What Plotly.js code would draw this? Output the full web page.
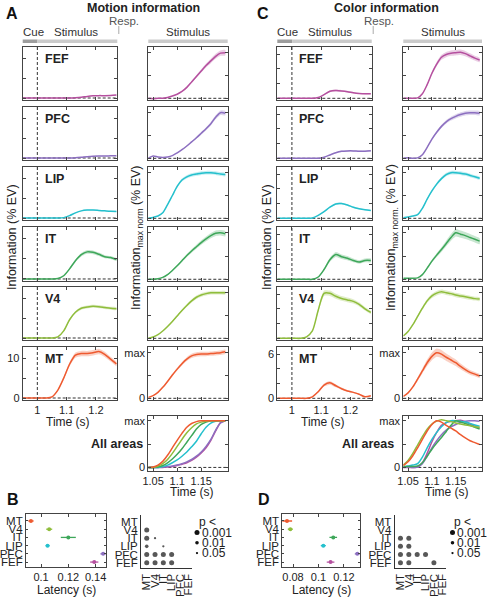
<!DOCTYPE html>
<html><head><meta charset="utf-8">
<script src="https://cdn.plot.ly/plotly-3.0.1.min.js"></script>
<style>html,body{margin:0;padding:0;background:#fff}#chart{width:488px;height:600px}</style>
</head><body><div id="chart"></div>
<script>
// ---------------- DATA ----------------
const rowAreas = ['FEF','PFC','LIP','IT','V4','MT'];
const latencyAreas = ['MT','V4','IT','LIP','PFC','FEF'];

const tLeft  = [0.95,0.97,0.99,1.01,1.03,1.05,1.07,1.09,1.11,1.13,1.15,1.17,1.19,1.21,1.23,1.25,1.27];
const tRight = [1.04,1.05,1.06,1.07,1.08,1.09,1.10,1.11,1.12,1.13,1.14,1.15,1.16,1.17,1.18,1.19,1.20];

// Motion information, % EV
const motionAbsFEF = [0,0,0,0,0,0,0,0,0.02,0.08,0.2,0.4,0.55,0.6,0.6,0.65,0.75];
const motionAbsPFC = [0,0,0,0,0,0,0,0,0.02,0.08,0.2,0.35,0.45,0.5,0.5,0.55,0.6];
const motionAbsLIP = [0,0,0,0,0,0,0,0.1,0.6,1.3,1.8,2.0,2.0,1.9,1.8,1.7,1.65];
const motionAbsIT  = [0,0,0,0,0,0,0.1,0.8,2.5,4.5,6.0,6.7,6.6,6.1,5.5,5.3,4.8];
const motionAbsV4  = [0,0,0,0,0,0,0.3,1.8,4.6,6.5,7.5,7.8,8.0,7.9,7.7,7.5,7.4];
const motionAbsMT  = [0,0,0,0,0,0.3,2.0,5.0,8.5,10.8,11.2,11.2,11.4,11.7,11.0,9.8,8.6];
// Motion information, max-normalised
const motionNormFEF = [0,-0.01,0,0,0.02,0.05,0.09,0.15,0.24,0.36,0.48,0.6,0.72,0.82,0.92,0.99,1.0];
const motionNormPFC = [0,0.05,0.03,0.02,0.03,0.06,0.12,0.19,0.27,0.36,0.45,0.55,0.65,0.76,0.9,1.0,0.99];
const motionNormLIP = [0,0.02,0.05,0.12,0.3,0.5,0.7,0.84,0.91,0.95,0.97,0.99,1.0,1.0,0.99,0.97,0.96];
const motionNormIT  = [0,0,0.01,0.04,0.1,0.19,0.29,0.4,0.51,0.61,0.7,0.79,0.87,0.94,0.99,1.0,0.98];
const motionNormV4  = [0,0.03,0.08,0.16,0.26,0.37,0.49,0.61,0.72,0.82,0.9,0.95,0.98,1.0,1.0,1.0,1.0];
const motionNormMT  = [0.02,0.06,0.13,0.24,0.37,0.51,0.64,0.76,0.86,0.93,0.96,0.97,0.97,0.98,0.99,1.0,1.02];
// Motion, all areas overlay
const motionAllFEF = [0,0,0,0,0.01,0.02,0.04,0.07,0.1,0.15,0.22,0.31,0.42,0.58,0.78,0.96,1.0];
const motionAllPFC = [0,0,0,0.01,0.02,0.03,0.05,0.08,0.12,0.17,0.24,0.33,0.45,0.6,0.8,0.95,1.0];
const motionAllLIP = [0,0,0,0.02,0.05,0.1,0.16,0.24,0.33,0.44,0.56,0.72,0.86,0.95,0.99,1.0,1.0];
const motionAllIT  = [0,0,0.01,0.04,0.1,0.18,0.28,0.4,0.54,0.68,0.82,0.92,0.97,1.0,1.0,1.0,1.0];
const motionAllV4  = [0,0,0.03,0.08,0.17,0.3,0.45,0.6,0.74,0.85,0.93,0.97,0.99,1.0,1.0,1.0,1.0];
const motionAllMT  = [0,0.01,0.05,0.13,0.26,0.42,0.58,0.73,0.86,0.94,0.98,1.0,1.0,1.0,1.0,1.0,1.0];

// Color information, % EV
const colorAbsFEF = [0,0,0,0,0,0,0,0.1,0.5,0.95,1.05,1.0,0.9,0.75,0.65,0.6,0.62];
const colorAbsPFC = [0,0,0,0,0,0,0,0,0.15,0.45,0.75,0.95,1.0,1.0,0.95,0.95,1.02];
const colorAbsLIP = [0,0,0,0,0,0,0.05,0.4,0.9,1.5,1.95,2.0,1.8,1.5,1.3,1.15,1.05];
const colorAbsIT  = [0,0,0,0,0,0,0,0.3,1.3,2.6,3.3,3.0,2.8,2.5,2.3,2.5,2.5];
const colorAbsV4  = [0,0,0,0,0,0.2,1.0,3.8,6.1,6.1,5.7,5.4,5.2,5.0,4.6,4.0,3.5];
const colorAbsMT  = [0,0,0,0,0,0,0.2,0.9,1.8,2.1,1.7,1.3,1.0,0.8,0.55,0.2,0.35];
// Color information, max-normalised (also overlaid in "All areas")
const colorNormFEF = [0,0,0,0.01,0.1,0.3,0.55,0.75,0.9,0.96,0.99,1.0,1.01,0.98,0.93,0.88,0.84];
const colorNormPFC = [0,0.01,0,0.01,0.08,0.24,0.42,0.57,0.7,0.8,0.87,0.92,0.96,0.99,1.0,1.0,0.99];
const colorNormLIP = [0.01,0.03,0.05,0.08,0.22,0.42,0.6,0.75,0.87,0.96,1.0,1.0,0.99,0.97,0.94,0.91,0.88];
const colorNormIT  = [0.02,0.02,0.02,0.03,0.1,0.24,0.39,0.52,0.64,0.77,0.9,1.0,0.97,0.94,0.9,0.86,0.82];
const colorNormV4  = [0.05,0.15,0.3,0.48,0.66,0.82,0.93,0.99,1.02,1.0,0.98,0.95,0.93,0.91,0.89,0.87,0.86];
const colorNormMT  = [0.04,0.12,0.25,0.42,0.6,0.78,0.92,1.0,0.97,0.9,0.84,0.78,0.7,0.63,0.57,0.53,0.49];

// relative error-band half widths (order: FEF, PFC, LIP, IT, V4, MT)
const motionAbsBand  = [0.1,0.1,0.06,0.07,0.05,0.06];
const motionNormBand = [0.06,0.05,0.04,0.06,0.04,0.05];
const colorAbsBand   = [0.12,0.1,0.06,0.1,0.06,0.12];
const colorNormBand  = [0.06,0.05,0.04,0.08,0.05,0.09];

// Latencies (s), order MT, V4, IT, LIP, PFC, FEF
const motionLatency    = [0.0926,0.1060,0.1200,0.1048,0.1455,0.1390];
const motionLatencyErr = [0.002,0.0022,0.0055,0.0015,0.002,0.003];
const colorLatency     = [0.0753,0.0779,0.1116,0.1038,0.1305,0.1095];
const colorLatencyErr  = [0.004,0.002,0.003,0.002,0.002,0.003];

// Pairwise significance
const motionSigRow = ['V4','IT','IT','LIP','LIP','PFC','PFC','PFC','PFC','FEF','FEF','FEF','FEF'];
const motionSigCol = ['MT','MT','V4','MT','IT','MT','V4','IT','LIP','MT','V4','IT','LIP'];
const motionSigP   = [0.001,0.001,0.05,0.01,0.05,0.001,0.001,0.001,0.001,0.001,0.001,0.001,0.001];
const colorSigRow = ['IT','IT','LIP','LIP','PFC','PFC','PFC','PFC','FEF','FEF','FEF'];
const colorSigCol = ['MT','V4','MT','V4','MT','V4','IT','LIP','MT','V4','PFC'];
const colorSigP   = [0.001,0.001,0.001,0.001,0.001,0.001,0.001,0.001,0.001,0.001,0.001];
const pLevels = ['0.001','0.01','0.05'];

// ---------------- TABLES ----------------
const motionAbs  = {FEF:motionAbsFEF,PFC:motionAbsPFC,LIP:motionAbsLIP,IT:motionAbsIT,V4:motionAbsV4,MT:motionAbsMT};
const motionNorm = {FEF:motionNormFEF,PFC:motionNormPFC,LIP:motionNormLIP,IT:motionNormIT,V4:motionNormV4,MT:motionNormMT};
const motionAll  = {FEF:motionAllFEF,PFC:motionAllPFC,LIP:motionAllLIP,IT:motionAllIT,V4:motionAllV4,MT:motionAllMT};
const colorAbs   = {FEF:colorAbsFEF,PFC:colorAbsPFC,LIP:colorAbsLIP,IT:colorAbsIT,V4:colorAbsV4,MT:colorAbsMT};
const colorNorm  = {FEF:colorNormFEF,PFC:colorNormPFC,LIP:colorNormLIP,IT:colorNormIT,V4:colorNormV4,MT:colorNormMT};

// ---------------- STYLE ----------------
const COL = {MT:'#ee5a30',V4:'#8fbd3c',IT:'#3ea75a',LIP:'#25c0cd',PFC:'#8c6fc0',FEF:'#b5509f'};
function rgba(hex,a){const n=parseInt(hex.slice(1),16);return `rgba(${n>>16},${(n>>8)&255},${n&255},${a})`;}
const F = '"Liberation Sans Narrow","Arial Narrow","Liberation Sans",Arial,sans-serif';
const W=488,H=600;
function X(p){return p/W;} function Y(p){return 1-p/H;}

const layout = {width:W,height:H,margin:{l:0,r:0,t:0,b:0},paper_bgcolor:'#fff',plot_bgcolor:'rgba(0,0,0,0)',
  showlegend:false,shapes:[],annotations:[],font:{family:F,size:11,color:'#222'}};
const traces=[];
const baseAx = {showline:true,mirror:'ticks',linecolor:'#444',linewidth:1,ticks:'inside',ticklen:3,tickwidth:1,
  tickcolor:'#444',showgrid:false,zeroline:false,fixedrange:true,tickfont:{family:F,size:11,color:'#222'}};
let axN=0;
function addAxes(x0,x1,y0,y1,xo,yo){
  axN++; const s = axN===1?'':String(axN);
  layout['xaxis'+s] = Object.assign({}, baseAx, {domain:[X(x0),X(x1)],anchor:'y'+s}, xo);
  layout['yaxis'+s] = Object.assign({}, baseAx, {domain:[Y(y1),Y(y0)],anchor:'x'+s}, yo);
  return {x:'x'+s,y:'y'+s};
}
function txt(s,x,y,o){layout.annotations.push(Object.assign({text:s,x:X(x),y:Y(y),xref:'paper',yref:'paper',showarrow:false,
  xanchor:'center',yanchor:'middle',font:{family:F,size:11,color:'#222'}},o||{}));}
function rect(x0,x1,y0,y1,c){layout.shapes.push({type:'rect',xref:'paper',yref:'paper',x0:X(x0),x1:X(x1),y0:Y(y1),y1:Y(y0),fillcolor:c,line:{width:0}});}
function hDash(ax){layout.shapes.push({type:'line',layer:'below',xref:ax.x+' domain',x0:0,x1:1,yref:ax.y,y0:0,y1:0,line:{color:'#333',width:1,dash:'3px,2px'}});}
function vDash(ax,xv){layout.shapes.push({type:'line',layer:'below',yref:ax.y+' domain',y0:0,y1:1,xref:ax.x,x0:xv,x1:xv,line:{color:'#333',width:1,dash:'3px,2px'}});}

function curve(ax,t,v,color,frac){
  if(frac){
    const up=v.map(a=>a+frac*Math.abs(a)), lo=v.map(a=>a-frac*Math.abs(a));
    traces.push({type:'scatter',mode:'lines',x:t.concat(t.slice().reverse()),y:up.concat(lo.slice().reverse()),
      xaxis:ax.x,yaxis:ax.y,fill:'toself',fillcolor:rgba(color,0.28),line:{width:0,shape:'spline',smoothing:0.6},hoverinfo:'skip'});
  }
  traces.push({type:'scatter',mode:'lines',x:t,y:v,xaxis:ax.x,yaxis:ax.y,line:{color:color,width:1.5,shape:'spline',smoothing:0.8}});
}

const rowTop=[47,107,167,227,287,347], rowBot=[100,160,220,281,340,400];

function bigPanel(o){
  const L=o.L, R=o.R;
  // header
  txt(o.letter, o.letterX, 13, {font:{family:'"Liberation Sans",Arial,sans-serif',size:16,color:'#111',weight:'bold'}});
  txt(o.title, o.titleX, 8, {font:{family:F,size:12.5,color:'#222',weight:'bold'}});
  rect(L[0],L[0]+14.8,39.5,43,'#9d9d9d'); rect(L[0]+14.8,L[1],39.5,43,'#cbcbcb');
  rect(R[0],R[1],39.5,43,'#cbcbcb');
  txt('Cue',L[0]+10.5,32,{font:{family:F,size:11.5,color:'#333'}});
  txt('Stimulus',L[0]+53,32,{font:{family:F,size:11.5,color:'#333'}});
  txt('Resp.',L[1]+7,21,{font:{family:F,size:11.5,color:'#555'}});
  layout.shapes.push({type:'line',xref:'paper',yref:'paper',x0:X(L[1]+1.5),x1:X(L[1]+1.5),y0:Y(26),y1:Y(34),line:{color:'#aaa',width:1}});
  txt('Stimulus',(R[0]+R[1])/2,32,{font:{family:F,size:11.5,color:'#333'}});
  rowAreas.forEach((a,i)=>{
    const last = i===rowAreas.length-1;
    const axL = addAxes(L[0],L[1],rowTop[i],rowBot[i],
      {range:[0.95,1.273],tickvals:[1,1.1,1.2],ticktext:last?['1','1.1','1.2']:['','','']},
      {range:o.absRange,tickvals:o.absTicks,ticktext:last?o.absTickText:o.absTicks.map(()=> '')});
    hDash(axL); vDash(axL,1);
    curve(axL,tLeft,o.abs[a],COL[a],o.absBand[i]);
    txt(a,L[0]+20,rowTop[i]+12,{xanchor:'left',font:{family:F,size:12.5,color:'#222',weight:'bold'}});
    const axR = addAxes(R[0],R[1],rowTop[i],rowBot[i],
      {range:[1.04,1.205],tickvals:[1.05,1.1,1.15],ticktext:['','','']},
      {range:[-0.037,1.125],tickvals:[0,0.5,1],ticktext:last?['0','','max']:['','','']});
    hDash(axR);
    curve(axR,tRight,o.norm[a],COL[a],o.normBand[i]);
  });
  txt('Time (s)',(L[0]+L[1])/2-2,422,{font:{family:F,size:12,color:'#222'}});
  txt('Information (% EV)',o.yTitleL,237,{textangle:-90,font:{family:F,size:12.5,color:'#222'}});
  txt('Information<sub>'+o.sub+'</sub> (% EV)',o.yTitleR,238,{textangle:-90,font:{family:F,size:12.5,color:'#222'}});
  // all areas
  const axA = addAxes(R[0],R[1],415.7,470.7,
    {range:[1.04,1.205],tickvals:[1.05,1.1,1.15],ticktext:['1.05','1.1','1.15']},
    {range:[-0.07,1.107],tickvals:[0,0.5,1],ticktext:['0','','max']});
  hDash(axA);
  rowAreas.forEach(a=>curve(axA,tRight,o.all[a],COL[a],0));
  txt('All areas',o.allX,444,{font:{family:F,size:12.5,color:'#222',weight:'bold'}});
  txt('Time (s)',(R[0]+R[1])/2+4,492,{font:{family:F,size:12,color:'#222'}});
}

function latencyPanel(x0,x1,lat,err,range,tv,letterX,letter){
  txt(letter,letterX,499,{font:{family:'"Liberation Sans",Arial,sans-serif',size:16,color:'#111',weight:'bold'}});
  const ax = addAxes(x0,x1,514,567,{range:range,tickvals:tv,ticktext:tv.map(String)},
    {range:[5.6,-0.85],tickvals:[0,1,2,3,4,5],ticktext:latencyAreas,ticklen:2,tickfont:{family:F,size:11.5,color:'#222'}});
  latencyAreas.forEach((a,i)=>traces.push({type:'scatter',mode:'markers',x:[lat[i]],y:[i],xaxis:ax.x,yaxis:ax.y,
    marker:{size:4,color:COL[a]},error_x:{type:'data',array:[err[i]],color:COL[a],thickness:1.3,width:0}}));
  txt('Latency (s)',(x0+x1)/2,590,{font:{family:F,size:12,color:'#222'}});
}
function pSize(p){return p<=0.001?5:(p<=0.01?3.6:2.3);}
function sigPanel(x0,x1,rows,cols,ps,legX){
  const ax = addAxes(x0,x1,515,568.3,
    {range:[-0.69,5.45],tickvals:[0,1,2,3,4,5],ticktext:latencyAreas,tickangle:-90,mirror:false,ticks:'',linecolor:'#333',tickfont:{family:F,size:11.5,color:'#222'}},
    {range:[5.68,-0.83],tickvals:[0,1,2,3,4,5],ticktext:latencyAreas,mirror:false,ticks:'',linecolor:'#333',tickfont:{family:F,size:11.5,color:'#222'}});
  traces.push({type:'scatter',mode:'markers',x:cols.map(c=>latencyAreas.indexOf(c)),y:rows.map(r=>latencyAreas.indexOf(r)),
    xaxis:ax.x,yaxis:ax.y,marker:{size:ps.map(pSize),color:'#111',line:{width:0}}});
  txt('p <',legX,521.5,{xanchor:'left',font:{family:F,size:12,color:'#222'}});
  pLevels.forEach((p,i)=>{
    const cy=532.5+i*10.3, r=pSize(+p)/2;
    layout.shapes.push({type:'circle',xref:'paper',yref:'paper',x0:X(legX+0.5-r),x1:X(legX+0.5+r),y0:Y(cy+r),y1:Y(cy-r),fillcolor:'#111',line:{width:0}});
    txt(p,legX+3,cy,{xanchor:'left',font:{family:F,size:12,color:'#222'}});
  });
}

bigPanel({letter:'A',letterX:12,title:'Motion information',titleX:143,L:[22.7,117.3],R:[148.3,227.7],
  abs:motionAbs,norm:motionNorm,all:motionAll,absBand:motionAbsBand,normBand:motionNormBand,
  absRange:[-0.5,12.85],absTicks:[0,5,10],absTickText:['0','','10'],yTitleL:12,yTitleR:137,sub:'max norm',allX:117});
bigPanel({letter:'C',letterX:263,title:'Color information',titleX:386,L:[277.3,371.7],R:[403.3,482],
  abs:colorAbs,norm:colorNorm,all:colorNorm,absBand:colorAbsBand,normBand:colorNormBand,
  absRange:[-0.23,6.95],absTicks:[0,2,4,6],absTickText:['0','','','6'],yTitleL:267,yTitleR:392,sub:'max norm.',allX:368});

latencyPanel(26,106,motionLatency,motionLatencyErr,[0.089,0.1476],[0.1,0.12,0.14],13,'B');
sigPanel(141,192,motionSigRow,motionSigCol,motionSigP,196.5);
latencyPanel(282.3,360,colorLatency,colorLatencyErr,[0.0716,0.1326],[0.08,0.1,0.12],264,'D');
sigPanel(394.7,446,colorSigRow,colorSigCol,colorSigP,452);

Plotly.newPlot('chart',traces,layout,{displayModeBar:false,staticPlot:true});
</script></body></html>
